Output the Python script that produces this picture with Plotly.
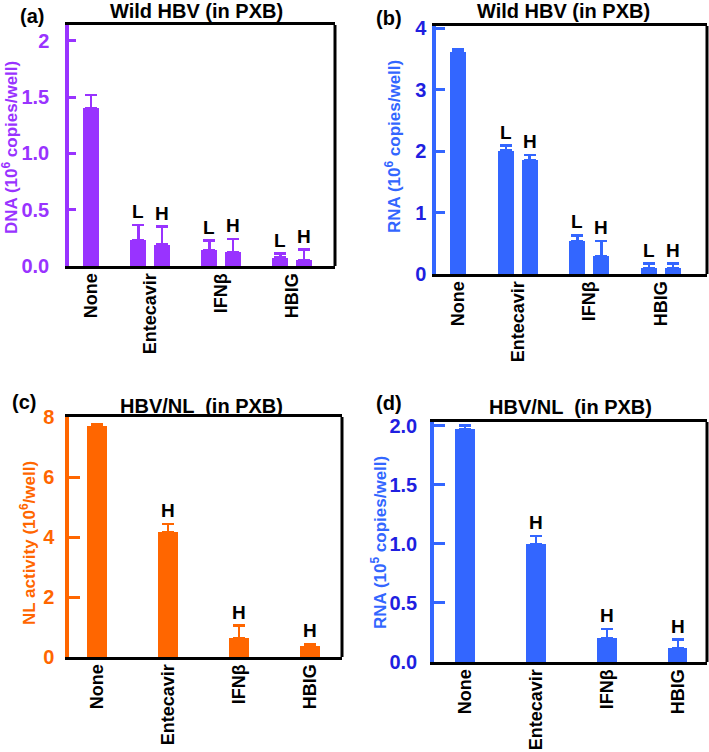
import plotly.graph_objects as go

# ---------------- data ----------------
categories = ["None", "Entecavir", "IFNβ", "HBIG"]

# Panels (a) and (b): None + L/H doses for each treatment
ab_group = [0, 1, 1, 2, 2, 3, 3]
ab_dose = ["", "L", "H", "L", "H", "L", "H"]

a_dna = [1.40, 0.23, 0.19, 0.14, 0.12, 0.075, 0.055]
a_err = [0.12, 0.135, 0.16, 0.085, 0.12, 0.035, 0.09]

b_rna = [3.62, 2.01, 1.86, 0.54, 0.29, 0.09, 0.09]
b_err = [0.04, 0.08, 0.08, 0.09, 0.25, 0.08, 0.08]

# Panels (c) and (d): None + H dose
cd_dose = ["", "H", "H", "H"]
c_nl = [7.70, 4.17, 0.63, 0.38]
c_err = [0.06, 0.26, 0.42, 0.05]

d_rna = [1.97, 1.00, 0.205, 0.12]
d_err = [0.03, 0.065, 0.075, 0.07]

# ---------------- styling ----------------
W, H = 709, 752
FONT = "Liberation Sans"
PURPLE = "#9933FF"
BLUE = "#3366FF"
DBLUE = "#1F1FE0"
ORANGE = "#FF6600"

# slot positions for (a)/(b): None at 0, then pairs separated by gaps
ab_x = []
for g, d in zip(ab_group, ab_dose):
    if g == 0:
        ab_x.append(0)
    else:
        ab_x.append(3 * g - 1 + (1 if d == "H" else 0))
ab_tick = [0, 2.5, 5.5, 8.5]
cd_x = list(range(len(categories)))

# panel pixel boxes: (left, top, right, bottom)
boxes = {
    1: (69, 25, 335, 266),
    2: (436, 26, 707, 274),
    3: (69, 417, 342, 657),
    4: (434, 422, 707, 662),
}

fig = go.Figure()

panels = [
    dict(i=1, x=ab_x, y=a_dna, e=a_err, lab=ab_dose, col=PURPLE, tcol=PURPLE, tick=ab_tick,
         xr=[-0.93, 10.31], yr=[0, 2.14], yt=[0, 0.5, 1.0, 1.5, 2], ytt=["0.0", "0.5", "1.0", "1.5", "2"],
         w=0.67, ytitle="DNA (10<sup>6</sup> copies/well)", ttx=10, tty=148, ticklen=7, tls=12,
         title="Wild HBV (in PXB)", tcx=196, tcy=11, plab="(a)", plx=32, ply=16),
    dict(i=2, x=ab_x, y=b_rna, e=b_err, lab=ab_dose, col=BLUE, tcol=DBLUE, tick=ab_tick,
         xr=[-0.92, 10.42], yr=[0, 4.04], yt=[0, 1, 2, 3, 4], ytt=["0", "1", "2", "3", "4"],
         w=0.67, ytitle="RNA (10<sup>6</sup> copies/well)", ttx=393, tty=147, ticklen=9, tls=2,
         title="Wild HBV (in PXB)", tcx=563, tcy=11, plab="(b)", plx=389, ply=18),
    dict(i=3, x=cd_x, y=c_nl, e=c_err, lab=cd_dose, col=ORANGE, tcol=ORANGE, tick=cd_x,
         xr=[-0.394, 3.45], yr=[0, 8.0], yt=[0, 2, 4, 6, 8], ytt=["0", "2", "4", "6", "8"],
         w=0.27, ytitle="NL activity (10<sup>6</sup>/well)", ttx=28, tty=543, ticklen=11, tls=7,
         title="HBV/NL  (in PXB)", tcx=201, tcy=406, plab="(c)", plx=24, ply=402),
    dict(i=4, x=cd_x, y=d_rna, e=d_err, lab=cd_dose, col=BLUE, tcol=DBLUE, tick=cd_x,
         xr=[-0.437, 3.41], yr=[0, 2.03], yt=[0, 0.5, 1.0, 1.5, 2.0], ytt=["0.0", "0.5", "1.0", "1.5", "2.0"],
         w=0.27, ytitle="RNA (10<sup>5</sup> copies/well)", ttx=379, tty=542, ticklen=11, tls=9,
         title="HBV/NL  (in PXB)", tcx=570, tcy=407, plab="(d)", plx=389, ply=403),
]

annotations = []
shapes = []
for p in panels:
    i = p["i"]
    sx = "" if i == 1 else str(i)
    L, T, R, B = boxes[i]
    fig.add_trace(go.Bar(
        x=p["x"], y=p["y"], width=p["w"],
        marker=dict(color=p["col"], line=dict(width=0)),
        error_y=dict(type="data", symmetric=False, array=p["e"], arrayminus=[0] * len(p["e"]),
                     color=p["col"], thickness=2.5, width=6),
        xaxis="x" + sx, yaxis="y" + sx, showlegend=False, hoverinfo="skip",
    ))
    fig.layout["xaxis" + sx] = dict(
        domain=[L / W, R / W], anchor="y" + sx, range=p["xr"], automargin=False,
        tickmode="array", tickvals=p["tick"], ticktext=categories, tickangle=-90,
        ticks="", showgrid=False, zeroline=False,
        showline=True, linecolor="black", linewidth=3, mirror=True,
        tickfont=dict(family=FONT, size=18, color="black", weight="bold"), ticklabelstandoff=-3,
    )
    fig.layout["yaxis" + sx] = dict(
        domain=[1 - B / H, 1 - T / H], anchor="x" + sx, range=p["yr"], automargin=False,
        tickmode="array", tickvals=p["yt"], ticktext=p["ytt"],
        ticks="inside", ticklen=p["ticklen"], tickwidth=2.5, tickcolor=p["col"],
        showgrid=False, zeroline=False,
        showline=True, linecolor=p["col"], linewidth=3.5, mirror=False,
        tickfont=dict(family=FONT, size=20, color=p["tcol"], weight="bold"), ticklabelstandoff=p["tls"],
    )
    # right border in black
    shapes.append(dict(type="line", xref="x" + sx + " domain", yref="y" + sx + " domain",
                       x0=1, x1=1, y0=0, y1=1, line=dict(color="black", width=3)))
    # dose labels above error bars
    for xv, yv, ev, lb in zip(p["x"], p["y"], p["e"], p["lab"]):
        if lb:
            annotations.append(dict(x=xv, y=yv + ev, xref="x" + sx, yref="y" + sx, text=lb,
                                    showarrow=False, yanchor="bottom", yshift=1,
                                    font=dict(family=FONT, size=19, color="black", weight="bold")))
    # y axis title
    annotations.append(dict(x=p["ttx"] / W, y=1 - p["tty"] / H, xref="paper", yref="paper",
                            text=p["ytitle"], textangle=-90, showarrow=False,
                            xanchor="center", yanchor="middle",
                            font=dict(family=FONT, size=17, color=p["col"], weight="bold")))
    # panel title
    annotations.append(dict(x=p["tcx"] / W, y=1 - p["tcy"] / H, xref="paper", yref="paper",
                            text=p["title"], showarrow=False, xanchor="center", yanchor="middle",
                            font=dict(family=FONT, size=20, color="black", weight="bold")))
    annotations.append(dict(x=p["plx"] / W, y=1 - p["ply"] / H, xref="paper", yref="paper",
                            text=p["plab"], showarrow=False, xanchor="center", yanchor="middle",
                            font=dict(family=FONT, size=20, color="black", weight="bold")))

fig.update_layout(
    width=W, height=H, margin=dict(l=0, r=0, t=0, b=0, autoexpand=False),
    paper_bgcolor="white", plot_bgcolor="white",
    annotations=annotations, shapes=shapes, bargap=0,
)

fig.write_html("out.html", config={"displayModeBar": False},
               post_script="document.body.style.margin='0';document.body.style.overflow='hidden';")
